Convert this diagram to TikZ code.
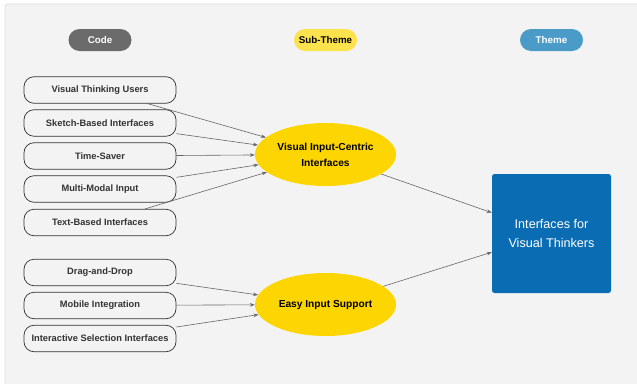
\documentclass[tikz,border=0pt]{standalone}
\usepackage{fontspec}
\setmainfont{Liberation Sans}
\usetikzlibrary{arrows.meta,shapes.geometric}
\definecolor{panel}{HTML}{F3F3F3}
\definecolor{panelline}{HTML}{DDDDDD}
\definecolor{codegray}{HTML}{6B6B6B}
\definecolor{subyellow}{HTML}{FCE24C}
\definecolor{themeblue}{HTML}{4B9BC8}
\definecolor{ellyellow}{HTML}{FDD500}
\definecolor{boxblue}{HTML}{0A6DB3}
\definecolor{txtgray}{HTML}{333333}
\definecolor{linegray}{HTML}{666666}
\tikzset{
  pill/.style={rounded corners=11pt, minimum width=63pt, minimum height=22pt, inner sep=0pt, font=\fontsize{9.8}{11}\selectfont\bfseries},
  codebox/.style={draw=txtgray, line width=0.7pt, fill=panel, rounded corners=10pt, minimum width=152pt, minimum height=26.5pt, inner sep=0pt, text=txtgray, font=\fontsize{9.3}{11}\selectfont\bfseries},
  subtheme/.style={ellipse, fill=ellyellow, minimum width=141pt, minimum height=63pt, inner sep=0pt, align=center, font=\fontsize{10.2}{16}\selectfont\bfseries},
  themebox/.style={fill=boxblue, rounded corners=2.5pt, minimum width=119pt, minimum height=119pt, inner sep=0pt, align=center, text=white, font=\fontsize{12.6}{19}\selectfont},
  conn/.style={draw=linegray, line width=0.6pt, -{Stealth[length=5pt,width=3.6pt]}}
}
\begin{document}
\begin{tikzpicture}[x=1pt,y=-1pt]
\useasboundingbox (0,0) rectangle (637,383);
\fill[white] (0,0) rectangle (637,383);
\begin{scope}
\clip (0,0) rectangle (637,383);
\draw[panelline, fill=panel, line width=0.8pt, rounded corners=3pt] (5,4) rectangle (645,392);
\end{scope}
% headers
\node[pill, fill=codegray, text=white] (hcode) at (100,40) {Code};
\node[pill, fill=subyellow, text=black] (hsub) at (325.5,40) {Sub-Theme};
\node[pill, fill=themeblue, text=white] (htheme) at (551.5,40) {Theme};
% code boxes
\node[codebox] (c1) at (100,90) {Visual Thinking Users};
\node[codebox] (c2) at (100,123) {Sketch-Based Interfaces};
\node[codebox] (c3) at (100,156) {Time-Saver};
\node[codebox] (c4) at (100,189) {Multi-Modal Input};
\node[codebox] (c5) at (100,222.5) {Text-Based Interfaces};
\node[codebox] (c6) at (100,272.5) {Drag-and-Drop};
\node[codebox] (c7) at (100,305.5) {Mobile Integration};
\node[codebox] (c8) at (100,338.5) {Interactive Selection Interfaces};
% sub-themes
\node[subtheme] (s1) at (325.5,154.5) {Visual Input-Centric\\Interfaces};
\node[subtheme] (s2) at (325.5,304.5) {Easy Input Support};
% theme
\node[themebox] (t) at (551.5,233.5) {Interfaces for\\Visual Thinkers};
% connectors
\foreach \c in {c1,c2,c3,c4,c5} \draw[conn] (\c) -- (s1);
\foreach \c in {c6,c7,c8} \draw[conn] (\c) -- (s2);
\draw[conn] (s1) -- (t);
\draw[conn] (s2) -- (t);
\end{tikzpicture}
\end{document}
